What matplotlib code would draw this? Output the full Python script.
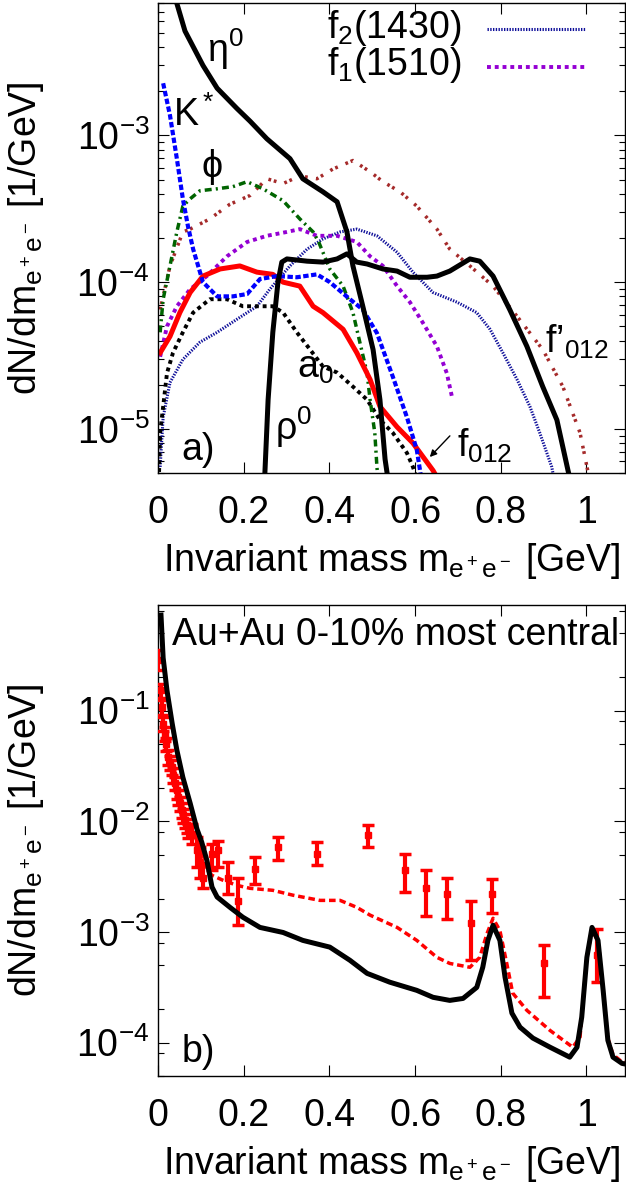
import matplotlib
matplotlib.use('Agg')
import matplotlib.pyplot as plt
from matplotlib.ticker import LogLocator, FixedLocator, NullFormatter, FuncFormatter

plt.rcParams['font.family'] = ['Liberation Sans', 'DejaVu Sans']
plt.rcParams['mathtext.fontset'] = 'custom'
plt.rcParams['mathtext.rm'] = 'Liberation Sans'
plt.rcParams['mathtext.it'] = 'Liberation Sans:italic'
plt.rcParams['mathtext.bf'] = 'Liberation Sans:bold'
plt.rcParams['mathtext.default'] = 'regular'
plt.rcParams['axes.unicode_minus'] = False

# ---- panel a) contributions ----
eta_m = [0.03, 0.040, 0.063, 0.105, 0.138, 0.184, 0.215, 0.254, 0.308, 0.338, 0.385, 0.418, 0.441, 0.455, 0.478, 0.502, 0.518, 0.530, 0.537]
eta_y = [1.2e-2, 8.7e-3, 5.15e-3, 3.0e-3, 2.1e-3, 1.53e-3, 1.25e-3, 9.5e-4, 6.95e-4, 5.07e-4, 4.13e-4, 3.53e-4, 2.2e-4, 1.29e-4, 6.85e-5, 3.47e-5, 1.58e-5, 6.2e-6, 4.5e-6]

ks_m = [0.012, 0.028, 0.044, 0.058, 0.070, 0.082, 0.105, 0.138, 0.175, 0.208, 0.238, 0.278, 0.324, 0.371, 0.401, 0.448, 0.478, 0.511, 0.548, 0.581, 0.604, 0.615]
ks_y = [2.27e-3, 1.37e-3, 6.95e-4, 3.7e-4, 2.4e-4, 1.68e-4, 1.0e-4, 8.0e-5, 8.0e-5, 8.3e-5, 1.05e-4, 1.1e-4, 1.08e-4, 1.13e-4, 1.0e-4, 7.65e-5, 6.5e-5, 4.5e-5, 2.27e-5, 1.2e-5, 7.2e-6, 4.5e-6]

phi_m = [0.005, 0.012, 0.028, 0.044, 0.058, 0.075, 0.098, 0.138, 0.175, 0.208, 0.245, 0.292, 0.331, 0.362, 0.375, 0.401, 0.432, 0.455, 0.471, 0.488, 0.495, 0.506, 0.511, 0.515]
phi_y = [4.55e-5, 7.65e-5, 1.29e-4, 2.2e-4, 3.3e-4, 3.7e-4, 4.2e-4, 4.33e-4, 4.48e-4, 4.84e-4, 4.33e-4, 3.59e-4, 2.7e-4, 2.2e-4, 1.88e-4, 1.23e-4, 9.4e-5, 6.2e-5, 3.9e-5, 2.4e-5, 1.58e-5, 9.4e-6, 5.5e-6, 4e-6]

fp_m = [0.005, 0.028, 0.058, 0.075, 0.121, 0.168, 0.215, 0.254, 0.292, 0.331, 0.371, 0.408, 0.455, 0.495, 0.525, 0.565, 0.604, 0.651, 0.681, 0.728, 0.782, 0.838, 0.898, 0.945, 0.985, 1.003, 1.01]
fp_y = [6.5e-5, 1.29e-4, 2.2e-4, 2.3e-4, 2.7e-4, 3.4e-4, 3.9e-4, 5.07e-4, 4.7e-4, 5.3e-4, 5.07e-4, 5.9e-4, 6.75e-4, 5.66e-4, 4.84e-4, 4.13e-4, 3.3e-4, 2.3e-4, 1.68e-4, 1.29e-4, 9.4e-5, 5.85e-5, 3.47e-5, 1.94e-5, 9.4e-6, 5.2e-6, 4e-6]

f2_m = [0.005, 0.012, 0.028, 0.058, 0.098, 0.138, 0.184, 0.231, 0.261, 0.308, 0.348, 0.385, 0.425, 0.464, 0.511, 0.558, 0.595, 0.642, 0.698, 0.744, 0.775, 0.805, 0.838, 0.868, 0.891, 0.919, 0.925]
f2_y = [5.5e-6, 1.2e-5, 2.07e-5, 2.97e-5, 3.9e-5, 4.55e-5, 5.58e-5, 6.85e-5, 8.95e-5, 1.29e-4, 1.68e-4, 1.97e-4, 2.2e-4, 2.3e-4, 2.07e-4, 1.6e-4, 1.17e-4, 8.5e-5, 7.3e-5, 6.2e-5, 4.77e-5, 3.3e-5, 2.17e-5, 1.42e-5, 9.4e-6, 5.5e-6, 4.5e-6]

f1_m = [0.005, 0.021, 0.044, 0.075, 0.114, 0.161, 0.208, 0.254, 0.301, 0.331, 0.371, 0.418, 0.464, 0.495, 0.525, 0.558, 0.588, 0.618, 0.651, 0.674, 0.686]
f1_y = [3.1e-5, 5.0e-5, 6.85e-5, 8.95e-5, 1.1e-4, 1.5e-4, 1.88e-4, 2.07e-4, 2.2e-4, 2.3e-4, 2.07e-4, 2.07e-4, 1.88e-4, 1.5e-4, 1.29e-4, 9.4e-5, 7.3e-5, 5.3e-5, 3.65e-5, 2.4e-5, 1.66e-5]

f0_m = [0.005, 0.028, 0.051, 0.075, 0.105, 0.145, 0.191, 0.231, 0.268, 0.292, 0.331, 0.362, 0.385, 0.432, 0.464, 0.495, 0.518, 0.558, 0.595, 0.642, 0.66]
f0_y = [3.3e-5, 4.27e-5, 6.2e-5, 8.5e-5, 1.1e-4, 1.23e-4, 1.29e-4, 1.17e-4, 1.13e-4, 1.0e-4, 9.4e-5, 6.85e-5, 6.2e-5, 4.77e-5, 3.3e-5, 2.17e-5, 1.42e-5, 1.03e-5, 8.0e-6, 5.2e-6, 4.2e-6]

a0_m = [0.002, 0.005, 0.021, 0.035, 0.058, 0.082, 0.121, 0.161, 0.198, 0.238, 0.268, 0.292, 0.324, 0.355, 0.385, 0.418, 0.455, 0.488, 0.518, 0.548, 0.581, 0.595, 0.605]
a0_y = [4.5e-6, 9.4e-6, 2.4e-5, 3.3e-5, 4.55e-5, 6.2e-5, 7.65e-5, 7.65e-5, 6.85e-5, 6.85e-5, 6.85e-5, 6.2e-5, 4.55e-5, 3.47e-5, 2.66e-5, 2.42e-5, 1.94e-5, 1.58e-5, 1.15e-5, 9.4e-6, 6.85e-6, 5.5e-6, 4.5e-6]

rho_m = [0.248, 0.257, 0.268, 0.280, 0.289, 0.301, 0.348, 0.385, 0.418, 0.441, 0.464, 0.488, 0.525, 0.558, 0.588, 0.628, 0.651, 0.681, 0.728, 0.751, 0.782, 0.821, 0.861, 0.898, 0.931, 0.957, 0.962]
rho_y = [4e-6, 1.58e-5, 4.55e-5, 1.0e-4, 1.37e-4, 1.44e-4, 1.39e-4, 1.37e-4, 1.44e-4, 1.56e-4, 1.37e-4, 1.33e-4, 1.23e-4, 1.19e-4, 1.08e-4, 1.08e-4, 1.1e-4, 1.19e-4, 1.44e-4, 1.39e-4, 1.1e-4, 6.5e-5, 3.65e-5, 1.94e-5, 1.15e-5, 5.2e-6, 4.5e-6]

# ---- panel b) total vs data ----
tot_m = [0.007, 0.012, 0.021, 0.033, 0.044, 0.058, 0.075, 0.091, 0.102, 0.114, 0.126, 0.138, 0.168, 0.198, 0.238, 0.292, 0.338, 0.401, 0.448, 0.488, 0.541, 0.604, 0.642, 0.681, 0.712, 0.744, 0.758, 0.770, 0.782, 0.798, 0.810, 0.826, 0.845, 0.875, 0.915, 0.961, 0.978, 0.989, 1.001, 1.013, 1.027, 1.039, 1.05, 1.062, 1.083, 1.092]
tot_y = [0.73, 0.30, 0.152, 0.077, 0.044, 0.025, 0.0146, 0.0085, 0.0065, 0.00445, 0.00255, 0.00207, 0.00167, 0.00136, 0.0011, 0.00099, 0.00084, 0.00073, 0.000555, 0.000423, 0.000352, 0.000297, 0.000257, 0.000241, 0.000251, 0.000316, 0.00048, 0.00084, 0.00115, 0.00084, 0.00039, 0.000185, 0.000138, 0.00011, 9.1e-5, 7.4e-5, 9.1e-5, 1.7e-4, 5.9e-4, 1.1e-3, 8.4e-4, 2.97e-4, 1.05e-4, 7.4e-5, 6.5e-5, 6.4e-5]

mod_m = [0.007, 0.012, 0.021, 0.033, 0.044, 0.058, 0.075, 0.091, 0.105, 0.116, 0.126, 0.152, 0.184, 0.215, 0.268, 0.315, 0.378, 0.425, 0.464, 0.495, 0.558, 0.604, 0.651, 0.681, 0.728, 0.751, 0.768, 0.782, 0.798, 0.814, 0.828, 0.861, 0.915, 0.968, 0.985, 1.0, 1.013, 1.027, 1.039, 1.05, 1.062, 1.083, 1.092]
mod_y = [0.70, 0.29, 0.145, 0.074, 0.042, 0.024, 0.014, 0.0080, 0.0050, 0.0036, 0.00325, 0.00293, 0.00264, 0.00248, 0.00238, 0.00215, 0.00193, 0.00193, 0.00167, 0.00142, 0.0011, 0.00084, 0.00059, 0.00052, 0.00048, 0.00059, 0.00097, 0.00133, 0.00103, 0.00052, 0.00028, 0.000196, 0.000129, 9.1e-5, 1.12e-4, 5.5e-4, 1.05e-3, 8.2e-4, 3.0e-4, 1.1e-4, 7.8e-5, 6.7e-5, 6.6e-5]

pts_m = [0.000, 0.006, 0.009, 0.012, 0.016, 0.019, 0.024, 0.028, 0.032, 0.036, 0.040, 0.044, 0.047, 0.051, 0.055, 0.059, 0.063, 0.067, 0.071, 0.079, 0.090, 0.098, 0.106, 0.125, 0.141, 0.164, 0.187, 0.226, 0.281, 0.370, 0.491, 0.576, 0.625, 0.675, 0.730, 0.780, 0.901, 1.025]
pts_y = [0.285, 0.152, 0.108, 0.076, 0.062, 0.050, 0.038, 0.034, 0.031, 0.026, 0.022, 0.019, 0.0166, 0.0145, 0.0126, 0.0113, 0.0102, 0.0092, 0.0083, 0.0077, 0.0055, 0.0043, 0.0031, 0.0051, 0.0055, 0.0031, 0.0019, 0.0037, 0.0059, 0.0051, 0.0075, 0.0036, 0.0025, 0.0022, 0.0012, 0.0022, 0.00052, 0.00062]
pts_lo = [0.231, 0.13, 0.092, 0.065, 0.053, 0.043, 0.032, 0.029, 0.026, 0.022, 0.019, 0.016, 0.014, 0.0123, 0.0107, 0.0096, 0.0087, 0.0078, 0.0070, 0.0063, 0.0039, 0.0031, 0.0025, 0.0036, 0.0039, 0.0022, 0.00115, 0.0027, 0.0045, 0.0040, 0.0059, 0.0023, 0.0014, 0.0013, 0.00056, 0.0015, 0.00026, 0.00035]
pts_hi = [0.35, 0.175, 0.124, 0.087, 0.071, 0.057, 0.044, 0.039, 0.036, 0.030, 0.025, 0.022, 0.019, 0.0167, 0.0145, 0.013, 0.0117, 0.0106, 0.0095, 0.0095, 0.0072, 0.0059, 0.0042, 0.0063, 0.0067, 0.0043, 0.0031, 0.0048, 0.0072, 0.0065, 0.0092, 0.0051, 0.0036, 0.0031, 0.0019, 0.0030, 0.00076, 0.00107]

xticks = [0, 0.2, 0.4, 0.6, 0.8, 1.0]
fs = 27

fig = plt.figure(figsize=(6.26, 11.92), dpi=100)
ax1 = fig.add_axes([158/626, 1-473/1192, 467/626, 470/1192])
ax2 = fig.add_axes([158/626, 1-1076/1192, 467/626, 471/1192])


def style_axis(ax, ylo, yhi, subs):
    ax.set_yscale('log')
    ax.set_xlim(0, 1.09)
    ax.set_ylim(ylo, yhi)
    ax.xaxis.set_major_locator(FixedLocator(xticks))
    ax.xaxis.set_major_formatter(FuncFormatter(lambda v, p: '%g' % v))
    ax.yaxis.set_major_locator(LogLocator(base=10))
    ax.yaxis.set_minor_locator(LogLocator(base=10, subs=subs))
    ax.yaxis.set_minor_formatter(NullFormatter())
    ax.tick_params(which='both', direction='in', top=True, right=True, labelsize=fs, width=0.8)
    ax.tick_params(which='major', length=8)
    ax.tick_params(which='minor', length=4.5)
    ax.tick_params(axis='x', pad=16)
    ax.tick_params(axis='y', pad=6)
    for s in ax.spines.values():
        s.set_linewidth(1.0)
    ax.set_xlabel(r'Invariant mass m$_{e^+e^-}$ [GeV]', fontsize=fs, labelpad=7)
    ax.set_ylabel(r'dN/dm$_{e^+e^-}$ [1/GeV]', fontsize=fs)
    ax.yaxis.set_label_coords(-0.24, 0.5)


style_axis(ax1, 5e-6, 8e-3, [2, 3, 4, 5, 6, 7, 8, 9])
style_axis(ax2, 5e-5, 0.9, [2, 5, 8])

# panel a
ax1.plot(f2_m, f2_y, color='#10109a', lw=2.2, dashes=(0.45, 0.45))
ax1.plot(fp_m, fp_y, color='#a52a2a', lw=2.5, dashes=(0.8, 0.8, 0.8, 2.4))
ax1.plot(f1_m, f1_y, color='#9400d3', lw=2.8, dashes=(1.0, 1.0))
ax1.plot(a0_m, a0_y, color='black', lw=2.8, dashes=(1.0, 1.0))
ax1.plot(phi_m, phi_y, color='#006400', lw=2.5, dashes=(2.0, 1.2, 0.6, 1.2))
ax1.plot(f0_m, f0_y, color='#ff0000', lw=3.6)
ax1.plot(ks_m, ks_y, color='#0000ff', lw=3.0, dashes=(1.3, 0.6))
ax1.plot(rho_m, rho_y, color='black', lw=3.6)
ax1.plot(eta_m, eta_y, color='black', lw=3.6)

tr = ax1.transAxes
ax1.text(0.105, 0.874, r'η$^0$', fontsize=fs, transform=tr, va='baseline')
ax1.text(0.032, 0.738, r'K$^*$', fontsize=fs, transform=tr, va='baseline')
ax1.text(0.094, 0.630, 'ϕ', fontsize=fs, transform=tr, va='baseline')
ax1.text(0.298, 0.202, r'a$_0$', fontsize=fs, transform=tr, va='baseline')
ax1.text(0.251, 0.070, r'ρ$^0$', fontsize=fs, transform=tr, va='baseline')
ax1.text(0.051, 0.028, 'a)', fontsize=fs, transform=tr, va='baseline')
ax1.text(0.640, 0.034, r'f$_{012}$', fontsize=fs, transform=tr, va='baseline')
ax1.text(0.829, 0.255, r'f’$_{012}$', fontsize=fs, transform=tr, va='baseline')
ax1.annotate('', xy=(0.582, 0.034), xytext=(0.625, 0.079), xycoords=tr, textcoords=tr,
             arrowprops=dict(arrowstyle='-|>', lw=1.0, color='black', mutation_scale=10,
                             shrinkA=0, shrinkB=0))

# legend drawn by hand
ax1.text(0.651, 0.926, r'f$_2$(1430)', fontsize=fs, transform=tr, ha='right', va='baseline')
ax1.text(0.651, 0.847, r'f$_1$(1510)', fontsize=fs, transform=tr, ha='right', va='baseline')
ax1.plot([0.704, 0.914], [0.945, 0.945], transform=tr, color='#10109a', lw=2.2, dashes=(0.45, 0.45))
ax1.plot([0.704, 0.914], [0.864, 0.864], transform=tr, color='#9400d3', lw=2.8, dashes=(1.0, 1.0))

# panel b
ax2.plot(mod_m, mod_y, color='#ff0000', lw=2.5, dashes=(1.9, 1.1), zorder=2)
err_lo = [y - lo for y, lo in zip(pts_y, pts_lo)]
err_hi = [hi - y for y, hi in zip(pts_y, pts_hi)]
ax2.errorbar(pts_m, pts_y, yerr=[err_lo, err_hi], fmt='s', color='#ff0000', ms=5,
             elinewidth=3.0, capsize=4.5, capthick=2.5, zorder=3)
ax2.plot(tot_m, tot_y, color='black', lw=3.6, zorder=4)

ax2.text(0.030, 0.915, 'Au+Au 0-10% most central', fontsize=fs, transform=ax2.transAxes, va='baseline')
ax2.text(0.051, 0.030, 'b)', fontsize=fs, transform=ax2.transAxes, va='baseline')

fig.savefig('out.png', dpi=100)
